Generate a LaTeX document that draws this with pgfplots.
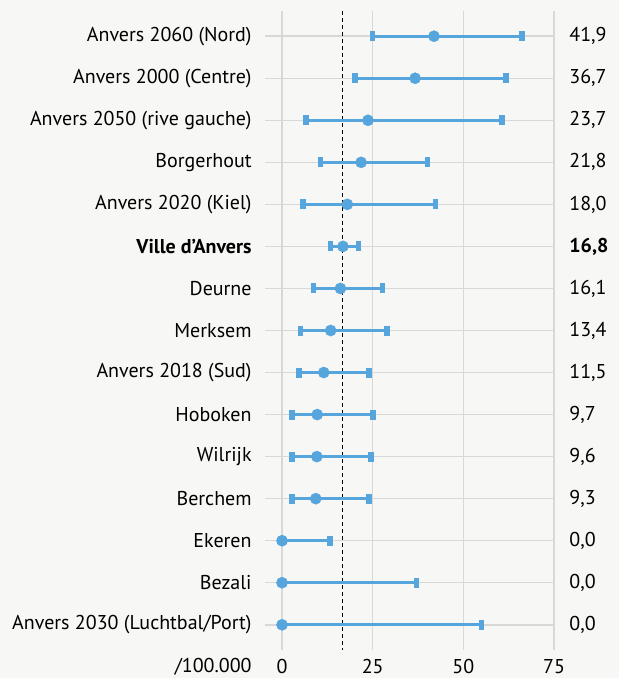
\documentclass[border=0pt]{standalone}
\usepackage{fontspec}
\setmainfont{PT Sans}
\usepackage{pgfplots}
\pgfplotsset{compat=1.18}
\usetikzlibrary{backgrounds}
\definecolor{bg}{HTML}{F7F7F5}
\definecolor{dotblue}{HTML}{56A6DD}
\definecolor{gridc}{HTML}{D8D8D8}

% taux /100.000, intervalle de confiance
\pgfplotstableread{
y  x     lo    hi
1  41.9  16.9  24.3
2  36.7  16.5  25.1
3  23.7  17.1  37.0
4  21.8  11.2  18.3
5  18.0  12.2  24.3
6  16.8  3.4   4.3
7  16.1  7.4   11.6
8  13.4  8.3   15.6
9  11.5  6.8   12.4
10 9.7   7.0   15.4
11 9.6   6.9   15.0
12 9.3   6.6   14.6
13 0.0   0.0   13.3
14 0.0   0.0   37.1
15 0.0   0.0   55.0
}\rates

\begin{document}
\fontsize{10pt}{12pt}\selectfont
\begin{tikzpicture}
\pgfplotsset{
  common/.style={
    scale only axis,
    width=144.5pt, height=319.5pt,
    xmin=-4.7, xmax=75,
    ymin=0.4, ymax=15.6,
    y dir=reverse,
    axis line style={draw=none},
    major tick length=0pt,
    /pgf/number format/assume math mode=true,
    ytick={1,...,15},
  }
}
\begin{axis}[
  common,
  name=main,
  xtick={0,25,50,75},
  xmajorgrids, ymajorgrids,
  grid style={gridc, line width=0.75pt},
  xticklabel style={anchor=base, inner sep=0pt, yshift=-11.5pt},
  yticklabel style={anchor=east, inner sep=0pt, xshift=-6.5pt, align=right},
  yticklabels={Anvers 2060 (Nord), Anvers 2000 (Centre), Anvers 2050 (rive gauche),
    Borgerhout, Anvers 2020 (Kiel), \textbf{Ville d’Anvers}, Deurne, Merksem,
    Anvers 2018 (Sud), Hoboken, Wilrijk, Berchem, Ekeren, Bezali,
    Anvers 2030 (Luchtbal/Port)},
  clip=false,
]
\addplot[black, line width=0.5pt, dash pattern=on 2pt off 1.5pt]
  coordinates {(16.8,0.4) (16.8,15.6)};
\addplot[dotblue, line width=1.5pt, mark=*, mark size=2.8pt,
  mark options={fill=dotblue, draw=dotblue, line width=0.2pt},
  only marks,
  error bars/.cd, x dir=both, x explicit,
  error mark=|,
  error bar style={dotblue, line width=1.6pt},
  error mark options={dotblue, line width=2.8pt, mark size=2.5pt}]
  table[x=x, y=y, x error minus=lo, x error plus=hi] {\rates};
\end{axis}
\begin{axis}[
  common,
  xtick=\empty,
  yticklabel pos=right,
  yticklabel style={anchor=west, inner sep=0pt, xshift=7.5pt},
  yticklabels={{41,9},{36,7},{23,7},{21,8},{18,0},\textbf{16,8},{16,1},{13,4},
    {11,5},{9,7},{9,6},{9,3},{0,0},{0,0},{0,0}},
]
\end{axis}
\node[anchor=base east, inner sep=0pt] at ([xshift=-6.5pt, yshift=-11.5pt]main.south west) {/100.000};
\begin{scope}[on background layer]
\fill[bg] ([xshift=-132.5pt, yshift=-14pt]main.south west) rectangle ([xshift=32.5pt, yshift=5.5pt]main.north east);
\end{scope}
\end{tikzpicture}
\end{document}
